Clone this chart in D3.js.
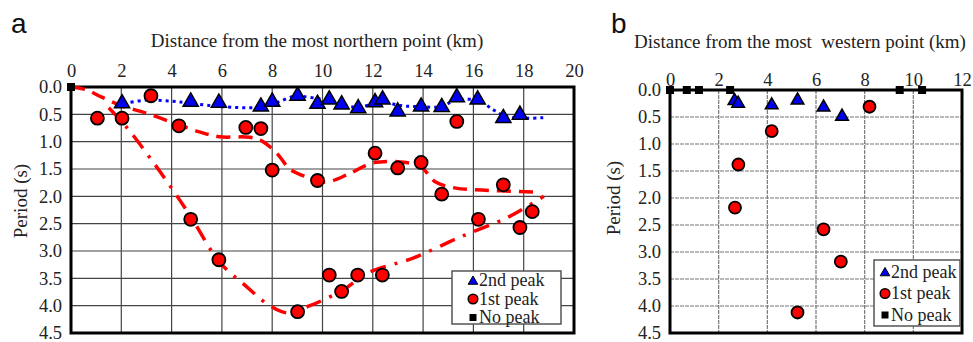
<!DOCTYPE html>
<html>
<head>
<meta charset="utf-8">
<style>
body { margin: 0; background: #fff; }
svg { display: block; }
.tick text { font-family: "Liberation Serif", "Times New Roman", serif; font-size: 18.5px; fill: #222; }
.title { font-family: "Liberation Serif", "Times New Roman", serif; font-size: 19px; fill: #222; white-space: pre; }
.legend text { font-family: "Liberation Serif", "Times New Roman", serif; font-size: 18px; fill: #222; }
.panel-label { font-family: "Liberation Sans", Arial, sans-serif; font-size: 28px; fill: #111; }
</style>
</head>
<body>
<svg width="973" height="342"></svg>
<script src="https://d3js.org/d3.v7.min.js"></script>
<script>
// ---- panel a : distance from the most northern point ----
var aSecondPeak = [[2.03,0.30],[4.76,0.27],[5.88,0.29],[7.55,0.36],[8.0,0.27],[9.01,0.16],[9.8,0.31],
  [10.27,0.23],[10.76,0.32],[11.42,0.39],[12.09,0.28],[12.39,0.23],[12.99,0.45],[13.92,0.36],
  [14.74,0.37],[15.34,0.19],[16.17,0.23],[17.19,0.57],[17.85,0.51]];
var aFirstPeak = [[1.05,0.57],[2.03,0.57],[3.18,0.16],[4.29,0.71],[6.95,0.74],[7.55,0.76],[8.0,1.52],
  [9.8,1.71],[12.09,1.21],[12.99,1.48],[13.92,1.38],[15.34,0.63],[14.74,1.96],[17.19,1.79],
  [16.2,2.42],[18.34,2.28],[17.85,2.57],[10.27,3.44],[11.4,3.44],[12.38,3.44],[10.76,3.74],
  [9.01,4.11],[4.76,2.42],[5.88,3.16]];
var aNoPeak = [[0,0]];
// trend lines
var aBlueTrend = [[2.1,0.3],[3,0.24],[4,0.26],[4.8,0.3],[6,0.36],[7.5,0.37],[8.2,0.28],[8.8,0.18],
  [9.1,0.17],[9.8,0.21],[10.3,0.25],[10.8,0.33],[11.4,0.37],[12.1,0.3],[12.4,0.27],[13.1,0.34],
  [13.9,0.36],[14.7,0.36],[15.3,0.24],[16.2,0.25],[16.8,0.42],[17.2,0.52],[17.85,0.57],[18.8,0.56]];
var aRedDashed = [[0,0],[0.6,0.05],[1.2,0.18],[2,0.34],[3,0.48],[4.1,0.66],[5.1,0.82],[5.9,0.91],
  [7.1,0.92],[7.6,0.99],[8.2,1.22],[8.7,1.5],[9.4,1.65],[9.9,1.72],[10.2,1.74],[11.0,1.6],
  [11.9,1.4],[12.3,1.37],[13.1,1.37],[13.9,1.46],[14.5,1.74],[15.3,1.85],[16.1,1.88],[17.1,1.9],[18.4,1.92]];
var aRedDashDot = [[1.5,0.38],[2.2,0.73],[3.1,1.27],[4.0,1.85],[4.8,2.4],[5.9,3.2],[6.9,3.62],
  [7.9,4.0],[8.6,4.13],[9.5,4.0],[10.1,3.88],[10.8,3.72],[11.8,3.4],[13.6,3.13],[15.5,2.74],
  [17.2,2.42],[17.9,2.25],[18.8,2.0]];

// ---- panel b : distance from the most western point ----
var bSecondPeak = [[2.65,0.2],[2.8,0.25],[4.18,0.28],[5.24,0.19],[6.31,0.32],[7.07,0.49]];
var bFirstPeak = [[8.2,0.31],[4.18,0.76],[2.81,1.38],[2.67,2.18],[6.31,2.58],[7.02,3.18],[5.24,4.12]];
var bNoPeak = [[0,0],[0.69,0],[1.19,0],[2.47,0],[9.44,0],[10.36,0]];

var periodTicks = [0,0.5,1,1.5,2,2.5,3,3.5,4,4.5];
var legendLabels = ["2nd peak","1st peak","No peak"];

var serif = "'Liberation Serif', 'Times New Roman', serif";
var svg = d3.select("svg");

function panel(opt) {
  var x = d3.scaleLinear().domain([0, opt.xmax]).range([opt.x0, opt.x1]);
  var y = d3.scaleLinear().domain([0, 4.5]).range([opt.y0, opt.y1]);
  var g = svg.append("g");
  var xt = d3.range(0, opt.xmax + 1, 2);

  // grid
  g.append("g").selectAll("line").data(xt.slice(1, -1)).enter().append("line")
    .attr("x1", x).attr("x2", x).attr("y1", opt.y0).attr("y2", opt.y1)
    .attr("stroke", opt.gridColor).attr("stroke-width", 1.2).attr("stroke-dasharray", opt.gridDash);
  g.append("g").selectAll("line").data(periodTicks.slice(1, -1)).enter().append("line")
    .attr("y1", y).attr("y2", y).attr("x1", opt.x0).attr("x2", opt.x1)
    .attr("stroke", opt.gridColor).attr("stroke-width", 1.2).attr("stroke-dasharray", opt.gridDash);

  // frame
  g.append("rect").attr("x", opt.x0).attr("y", opt.y0)
    .attr("width", opt.x1 - opt.x0).attr("height", opt.y1 - opt.y0)
    .attr("fill", "none").attr("stroke", "#000").attr("stroke-width", 3);

  // axes (labels only, frame drawn above)
  g.append("g").attr("transform", "translate(0," + opt.y0 + ")")
    .call(d3.axisTop(x).tickValues(xt).tickSize(0).tickPadding(opt.xPad).tickFormat(d3.format("d")))
    .attr("font-family", serif).attr("font-size", 18.5)
    .call(function(a) { a.select(".domain").remove(); });
  g.append("g").attr("transform", "translate(" + opt.x0 + ",0)")
    .call(d3.axisLeft(y).tickValues(periodTicks).tickSize(0).tickPadding(9).tickFormat(d3.format(".1f")))
    .attr("font-family", serif).attr("font-size", 18.5)
    .call(function(a) { a.select(".domain").remove(); });

  g.append("text").attr("class", "title").attr("x", opt.titleX).attr("y", opt.titleY)
    .attr("text-anchor", "middle").text(opt.title);
  g.append("text").attr("class", "title").attr("text-anchor", "middle")
    .attr("transform", "translate(" + opt.ylabX + "," + opt.ylabY + ") rotate(-90)")
    .text("Period (s)");
  g.append("text").attr("class", "panel-label").attr("x", opt.labX).attr("y", 33).text(opt.label);

  // trend lines
  var line = d3.line().x(function(d) { return x(d[0]); }).y(function(d) { return y(d[1]); })
    .curve(d3.curveCatmullRom.alpha(0.5));
  (opt.lines || []).forEach(function(l) {
    g.append("path").attr("d", line(l.data)).attr("fill", "none")
      .attr("stroke", l.color).attr("stroke-width", l.width).attr("stroke-dasharray", l.dash);
  });

  // markers
  var tri = d3.symbol().type(d3.symbolTriangle).size(opt.triSize);
  g.append("g").selectAll("path").data(opt.second).enter().append("path")
    .attr("d", tri).attr("transform", function(d) { return "translate(" + x(d[0]) + "," + y(d[1]) + ")"; })
    .attr("fill", "#0000f0").attr("stroke", "#000").attr("stroke-width", 1.5);
  g.append("g").selectAll("circle").data(opt.first).enter().append("circle")
    .attr("cx", function(d) { return x(d[0]); }).attr("cy", function(d) { return y(d[1]); })
    .attr("r", opt.r).attr("fill", "#ff0000").attr("stroke", "#000").attr("stroke-width", 1.8);
  g.append("g").selectAll("rect").data(opt.none).enter().append("rect")
    .attr("x", function(d) { return x(d[0]) - 4; }).attr("y", function(d) { return y(d[1]) - 4; })
    .attr("width", 8).attr("height", 8).attr("fill", "#000");

  // legend
  var lg = g.append("g").attr("class", "legend").attr("transform", "translate(" + opt.legX + "," + opt.legY + ")");
  lg.append("rect").attr("width", opt.legW).attr("height", opt.legH)
    .attr("fill", "#fff").attr("stroke", "#555").attr("stroke-width", 1.5);
  var items = lg.selectAll("g.item").data(legendLabels).enter().append("g")
    .attr("transform", function(d, i) { return "translate(0," + (opt.legFirst + i * opt.legStep) + ")"; });
  items.each(function(d, i) {
    var it = d3.select(this);
    if (i === 0) it.append("path").attr("d", d3.symbol().type(d3.symbolTriangle).size(40))
      .attr("transform", "translate(" + opt.legMark + ",1)").attr("fill", "#0000f0").attr("stroke", "#000");
    if (i === 1) it.append("circle").attr("cx", opt.legMark).attr("r", 4.8)
      .attr("fill", "#ff0000").attr("stroke", "#000").attr("stroke-width", 1.5);
    if (i === 2) it.append("rect").attr("x", opt.legMark - 3.5).attr("y", -3.5).attr("width", 7).attr("height", 7).attr("fill", "#000");
    it.append("text").attr("x", opt.legMark + 6).attr("dy", "0.33em").text(d);
  });
}

panel({
  xmax: 20, x0: 71, x1: 574, y0: 87, y1: 333, xPad: 10,
  gridColor: "#444", gridDash: null,
  title: "Distance from the most northern point (km)", titleX: 317, titleY: 47,
  ylabX: 27, ylabY: 201, label: "a", labX: 11,
  second: aSecondPeak, first: aFirstPeak, none: aNoPeak,
  triSize: 100, r: 6.5,
  lines: [
    {data: aBlueTrend, color: "#0000ff", width: 3, dash: "3,4"},
    {data: aRedDashed, color: "#ff0000", width: 3.5, dash: "14,8"},
    {data: aRedDashDot, color: "#ff0000", width: 3.5, dash: "16,9,3,9"}
  ],
  legX: 452, legY: 271, legW: 109, legH: 53, legFirst: 9.5, legStep: 18.5, legMark: 21
});

panel({
  xmax: 12, x0: 670, x1: 962, y0: 90, y1: 333, xPad: 4,
  gridColor: "#777", gridDash: "4,1",
  title: "Distance from the most  western point (km)", titleX: 800, titleY: 48,
  ylabX: 620, ylabY: 198, label: "b", labX: 611,
  second: bSecondPeak, first: bFirstPeak, none: bNoPeak,
  triSize: 70, r: 6,
  lines: [],
  legX: 874, legY: 260, legW: 86, legH: 66, legFirst: 12, legStep: 21.5, legMark: 11
});
</script>
</body>
</html>
